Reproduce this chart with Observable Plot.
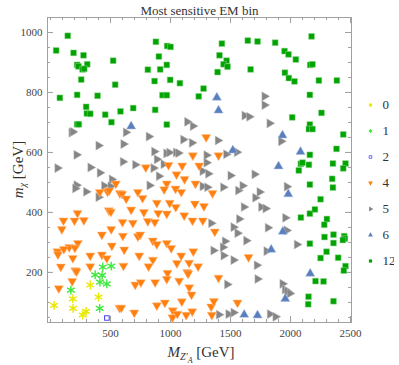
<!DOCTYPE html>
<html><head><meta charset="utf-8">
<script src="https://cdn.jsdelivr.net/npm/d3@7"></script>
<script src="https://cdn.jsdelivr.net/npm/@observablehq/plot@0.6"></script>
<style>
body{margin:0;background:#fff;}
#wrap{position:relative;width:399px;height:365px;}
#legend{position:absolute;left:350px;top:90px;}
</style></head><body><div id="wrap"></div>
<script>
const title = "Most sensitive EM bin";
const categories = ["0","1","2","4","5","6","12"];

// [M_Z'A (GeV), m_chi (GeV)]
const bin0 = [[331,158],[186,112],[400,118],[30,90],[188,80],[297,70],[268,58]];
const bin1 = [[436,218],[506,221],[372,192],[430,190],[412,168],[469,162],[170,141],[410,80]];
const bin2 = [[470,48]];
const bin4 = [[794,550],[983,558],[1097,556],[1186,590],[1239,556],[1050,527],[1117,511],[1297,651],[1400,590],
  [969,496],[1208,496],[947,477],[1042,479],[1090,468],[544,496],[475,469],[489,473],[411,468],[578,464],[597,462],[631,446],
  [728,468],[767,448],[1203,429],[886,432],[993,432],[1044,418],[225,398],[486,407],[503,402],[672,409],[778,401],[897,398],
  [969,396],[1114,390],[1183,373],[108,373],[200,373],[278,374],[600,368],[686,365],[811,371],[869,368],[94,344],
  [228,298],[156,284],[203,282],[58,270],[62,260],[111,278],[1190,270],[186,248],[1155,232],[1230,220],
  [86,219],[206,207],[217,203],[1139,201],[1147,196],[181,171],[1156,150],[69,147],[1175,126],[1094,103],[886,90],[953,99],
  [575,82],[590,82],[698,66],[1019,73],[1016,50],[1057,62],[1131,58],[1181,70],[1339,86],[1344,58],[1361,104],[1558,99],
  [1350,464],[1278,421],[1269,373],[1369,336],[1650,251],[1400,182],
  [506,344],[428,326],[603,322],[728,320],[747,326],[853,306],[886,294],[969,298],[1006,281],[511,289],[614,276],
  [739,256],[853,242],[331,256],[428,259],[469,247],[608,222],[817,220],[1053,231],[1089,256],[331,220],[975,198],
  [969,178],[1072,172],[706,159],[753,167],[872,167]];
const bin5 = [[175,666],[186,669],[628,667],[819,653],[1139,702],[1186,688],[400,623],[608,628],[217,592],[864,603],
  [965,597],[990,600],[1045,600],[1065,598],[1106,643],[1178,632],[58,548],[333,550],[411,532],[603,569],[706,559],
  [886,577],[858,548],[942,561],[903,521],[511,510],
  [1783,787],[1783,758],[1617,723],[1656,719],[1825,697],[1922,637],[1394,640],[1553,601],[1464,594],[1300,591],
  [1300,566],[1267,538],[1314,529],[1500,523],[1700,527],
  [217,491],[206,480],[297,469],[400,451],[447,489],[500,487],[825,490],
  [1267,487],[1306,484],[1439,484],[1564,473],[1600,489],[1706,449],[1742,468],[1969,486],[1611,418],[1756,418],
  [1792,413],[1956,382],[1572,378],[1339,364],[1525,351],[1558,331],[1811,349],[1967,340],[1453,304],[1436,284],
  [1631,306],[1358,273],[1442,256],[1525,241],[1800,271],[2053,293],[1719,224],[1725,178],[1472,160],[1933,162],
  [1953,143],[1972,137],[1994,130],[1403,59],[1483,61],[1525,66],[1828,61],[1875,52]];
const bin6 = [[672,687],[1386,783],[1400,740],[1933,657],[1519,607],[2083,602],[1900,554],[1981,461],[1936,336],
  [1839,276],[2164,196],[1956,112],[1614,59],[1725,57]];
const bin12 = [[144,989],[47,940],[192,932],[275,924],[222,892],[233,887],[306,894],[267,877],[281,879],[256,843],
  [522,906],[539,826],[78,782],[222,792],[392,789],[297,752],[303,730],[331,729],[456,726],[583,737],[689,748],
  [508,701],[222,694],[236,694],[878,969],[972,955],[1000,952],[903,920],[969,892],[914,877],[811,876],[867,838],
  [997,842],[1078,831],[933,791],[969,791],[1235,787],[872,742],[969,693],
  [2175,987],[1428,963],[1644,973],[1725,970],[1872,966],[1408,924],[1467,906],[1442,894],[1475,886],[1392,868],
  [1667,877],[1950,938],[1983,927],[2044,910],[2164,892],[2183,894],[1953,866],[1986,848],[2033,837],[2236,840],
  [2386,840],[1275,813],[2161,792],[2258,732],[2014,717],[2161,693],[2153,678],[2183,678],[2439,660],[2383,612],
  [2161,592],[2086,562],[2100,566],[2153,559],[2353,563],[2458,563],[2439,547],[2069,540],[2347,512],
  [2353,483],[2161,493],[2250,444],[2303,378],[2161,396],[2203,410],[2086,383],[2281,359],[2283,318],[2358,326],
  [2358,298],[2447,321],[2453,313],[2436,308],[2161,296],[2300,269],[2250,248],[2397,249],[2458,221],[2444,206],
  [2208,171],[2275,170],[2150,119],[2147,94],[2358,104]];

const xTicks = [500,1000,1500,2000,2500];
const yTicks = [200,400,600,800,1000];
const xMinor = d3.range(0, 2501, 100);
const yMinor = d3.range(50, 1050, 50);

const colors = {"0":"#e8e800","1":"#3ee83e","2":"#4a4aff","4":"#ff7f0f","5":"#858585","6":"#5a7fbd","12":"#00a300"};

const W=399,H=365,mL=47,mR=48,mT=17,mB=43;
const pH=H-mT-mB, pW=W-mL-mR;
const frameC="#a0a0a0";
const px=d=>d[0], py=d=>d[1];

const chart = Plot.plot({
  width:W, height:H, marginLeft:mL, marginRight:mR, marginTop:mT, marginBottom:mB,
  x:{domain:[-25,2508]}, y:{domain:[33,1050]},
  style:{fontFamily:"Liberation Serif, serif", fontSize:"11px", color:"#444", background:"white"},
  marks:[
    Plot.ruleX(xMinor,{insetTop:pH-3, stroke:frameC}),
    Plot.ruleX(xMinor,{insetBottom:pH-3, stroke:frameC}),
    Plot.ruleX(xTicks,{insetTop:pH-6, stroke:frameC}),
    Plot.ruleX(xTicks,{insetBottom:pH-6, stroke:frameC}),
    Plot.ruleY(yMinor,{insetRight:pW-3, stroke:frameC}),
    Plot.ruleY(yMinor,{insetLeft:pW-3, stroke:frameC}),
    Plot.ruleY(yTicks,{insetRight:pW-6, stroke:frameC}),
    Plot.ruleY(yTicks,{insetLeft:pW-6, stroke:frameC}),
    Plot.axisX({ticks:xTicks, tickSize:0, tickPadding:7, label:null, fontSize:11, tickFormat:d3.format("d")}),
    Plot.axisY({ticks:yTicks, tickSize:0, tickPadding:5, label:null, fontSize:11, tickFormat:d3.format("d")}),
    Plot.frame({stroke:frameC}),
    Plot.dot(bin12,{x:px,y:py,symbol:"square",r:3.3,fill:colors["12"],stroke:"#8fd88f",strokeWidth:0.5}),
    Plot.dot(bin5,{x:px,y:py,symbol:"triangle",rotate:90,r:3.4,fill:colors["5"],stroke:"#c0c0c0",strokeWidth:0.5}),
    Plot.dot(bin4,{x:px,y:py,symbol:"triangle",rotate:180,r:3.4,fill:colors["4"],stroke:"#ffc090",strokeWidth:0.5}),
    Plot.dot(bin6,{x:px,y:py,symbol:"triangle",r:3.4,fill:colors["6"],stroke:"#a8bde0",strokeWidth:0.5}),
    Plot.dot(bin2,{x:px,y:py,symbol:"square",r:2.6,fill:"none",stroke:colors["2"],strokeWidth:1.1}),
    Plot.dot(bin1,{x:px,y:py,symbol:"asterisk",r:4.2,stroke:colors["1"],strokeWidth:1.4}),
    Plot.dot(bin0,{x:px,y:py,symbol:"asterisk",r:4.2,stroke:colors["0"],strokeWidth:1.4}),
    Plot.text([title],{frameAnchor:"top", lineAnchor:"bottom", dy:-3, fontSize:13, fill:"#333"})
  ]
});

const svg = d3.select(chart);
// x label
const xl = svg.append("text").attr("x", mL+pW/2+2).attr("y", 357)
  .attr("text-anchor","middle").attr("font-family","Liberation Serif, serif").attr("font-size",15).attr("fill","#333");
xl.append("tspan").attr("font-style","italic").text("M");
xl.append("tspan").attr("font-style","italic").attr("font-size",10).attr("dy",3).text("Z′");
xl.append("tspan").attr("font-style","italic").attr("font-size",8).attr("dy",2.5).text("A");
xl.append("tspan").attr("dy",-5.5).text(" [GeV]");
// y label
const yl = svg.append("text").attr("transform",`translate(23,${mT+pH/2}) rotate(-90)`)
  .attr("text-anchor","middle").attr("font-family","Liberation Serif, serif").attr("font-size",15).attr("fill","#333");
yl.append("tspan").attr("font-style","italic").text("m");
yl.append("tspan").attr("font-style","italic").attr("font-size",10).attr("dy",3).text("χ");
yl.append("tspan").attr("dy",-3).text(" [GeV]");

const wrap = document.getElementById("wrap");
wrap.appendChild(chart);

const legendSym = {"0":"asterisk","1":"asterisk","2":"square","4":"triangle","5":"triangle","6":"triangle","12":"square"};
const legendRot = {"0":0,"1":0,"2":0,"4":180,"5":90,"6":0,"12":0};
const legend = Plot.plot({
  width:44, height:185, margin:0,
  y:{domain:categories, type:"band", axis:null},
  style:{fontFamily:"Liberation Serif, serif", fontSize:"13px", color:"#333", background:"transparent"},
  marks:[
    Plot.dot(categories.filter(c=>c==="0"||c==="1"),{y:d=>d, dx:-2, symbol:"asterisk", r:1.8, stroke:d=>colors[d], strokeWidth:1}),
    Plot.dot(categories.filter(c=>c==="2"),{y:d=>d, dx:-2, symbol:"square", r:1.5, fill:"none", stroke:d=>colors[d], strokeWidth:0.8}),
    Plot.dot(categories.filter(c=>!["0","1","2"].includes(c)),{y:d=>d, dx:-2, symbol:d=>legendSym[d], rotate:d=>legendRot[d], r:1.8, fill:d=>colors[d]}),
    Plot.text(categories,{y:d=>d, text:d=>d, textAnchor:"start", dx:10, fontSize:13, fill:"#333"})
  ]
});
legend.id="legend";
wrap.appendChild(legend);
</script>
</body></html>
